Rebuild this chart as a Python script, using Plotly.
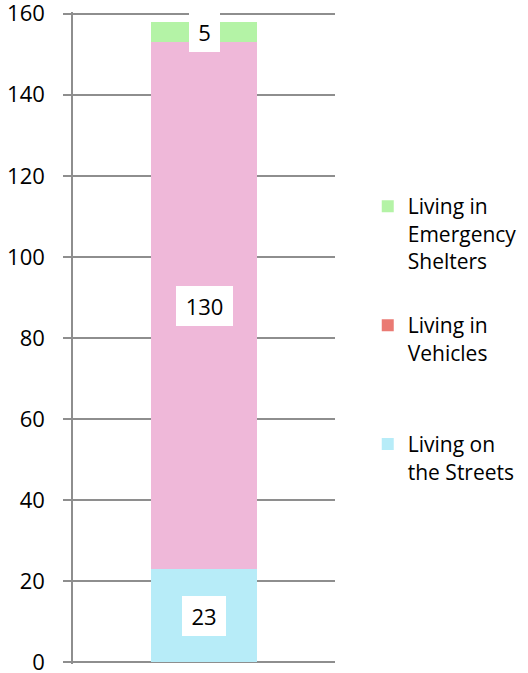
import plotly.graph_objects as go

# ---- data ----
category = [0]
streets = [23]
vehicles = [130]
shelters = [5]
series_names = ["Living on<br>the Streets", "Living in<br>Vehicles", "Living in<br>Emergency<br>Shelters"]
y_ticks = [0, 20, 40, 60, 80, 100, 120, 140, 160]

# ---- style ----
FONT = "Open Sans, Lato, sans-serif"
GRID = "#8E8E8E"
C_STREETS = "#B7ECF8"
C_VEH_BAR = "#EFB8D9"
C_VEH_LEG = "#EA7A73"
C_SHELT = "#B4F3A6"
BW = 0.405

fig = go.Figure()
fig.add_trace(go.Bar(x=category, y=streets, name=series_names[0], marker_color=C_STREETS,
                     marker_line_width=0, width=BW, legendgroup="s", legendrank=3))
fig.add_trace(go.Bar(x=category, y=vehicles, name=series_names[1], marker_color=C_VEH_BAR,
                     marker_line_width=0, width=BW, showlegend=False, legendgroup="v"))
fig.add_trace(go.Bar(x=category, y=shelters, name=series_names[2], marker_color=C_SHELT,
                     marker_line_width=0, width=BW, legendgroup="e", legendrank=1))
# legend entry for vehicles (legend swatch colour differs from bar in the reference)
fig.add_trace(go.Bar(x=[None], y=[None], name=series_names[1] + "<br> ", marker_color=C_VEH_LEG,
                     marker_line_width=0, legendgroup="v", legendrank=2))

# value labels in white boxes
base = 0
for vals in (streets, vehicles, shelters):
    v = vals[0]
    fig.add_annotation(x=category[0], y=base + v / 2, text=str(v), showarrow=False,
                       bgcolor="white", borderpad=0, borderwidth=0,
                       width=13 * len(str(v)) + 18, height=40,
                       font=dict(family=FONT, size=22, color="black"))
    base += v

fig.update_layout(
    barmode="stack",
    width=528, height=673,
    margin=dict(l=73, r=193, t=12, b=9, autoexpand=False),
    paper_bgcolor="white", plot_bgcolor="white",
    font=dict(family=FONT, size=21, color="black"),
    showlegend=True,
    legend=dict(x=1.125, y=0.733, xanchor="left", yanchor="top",
                traceorder="grouped", tracegroupgap=34, valign="top",
                font=dict(family=FONT, size=21, color="black"),
                bgcolor="rgba(0,0,0,0)"),
    xaxis=dict(range=[-0.5, 0.5], showticklabels=False, showgrid=False,
               zeroline=False, showline=False, ticks="", automargin=False),
    yaxis=dict(range=[-0.4, 160.4], tickvals=y_ticks, showgrid=True, gridcolor=GRID, gridwidth=1.5,
               zeroline=False, showline=True, linecolor=GRID, linewidth=1.5,
               ticks="outside", ticklen=8, tickcolor=GRID, tickwidth=1.5,
               ticklabelstandoff=14, ticklabeloverflow="allow", automargin=False,
               tickfont=dict(family=FONT, size=22, color="black")),
)

fig.write_html("out.html", config={"displayModeBar": False},
               post_script="document.body.style.margin='0';")
